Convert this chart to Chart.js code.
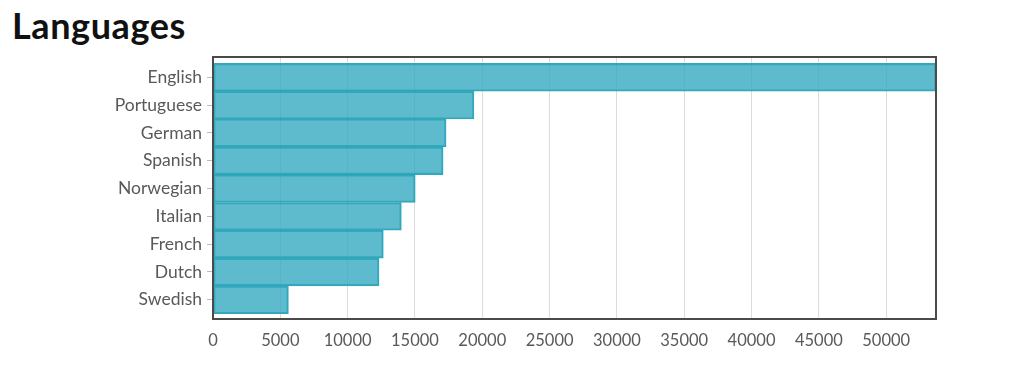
<!DOCTYPE html>
<html>
<head>
<meta charset="utf-8">
<script src="https://cdn.jsdelivr.net/npm/chart.js@4/dist/chart.umd.min.js"></script>
<style>
  html, body { margin: 0; padding: 0; background: #fff; }
  #wrap { position: relative; width: 1031px; height: 374px; }
  #title {
    position: absolute; left: 12px; top: 4px; margin: 0;
    font-family: Lato, sans-serif; font-weight: 700; font-size: 36px;
    letter-spacing: 0.6px; color: #111; line-height: 42px;
  }
  canvas { position: absolute; left: 0; top: 0; }
</style>
</head>
<body>
<div id="wrap">
  <h1 id="title">Languages</h1>
  <canvas id="chart" width="1031" height="374"></canvas>
</div>
<script>
// values
const languages = ["English", "Portuguese", "German", "Spanish", "Norwegian", "Italian", "French", "Dutch", "Swedish"];
const speakers = [53700, 19380, 17310, 17090, 15020, 13990, 12650, 12330, 5600];
const xTicks = [0, 5000, 10000, 15000, 20000, 25000, 30000, 35000, 40000, 45000, 50000];

const labelColor = "#595959";
const fontFamily = "Lato, 'Open Sans', sans-serif";

// box around the plot area
const frame = {
  id: "frame",
  afterDatasetsDraw(chart) {
    const a = chart.chartArea;
    const ctx = chart.ctx;
    ctx.save();
    ctx.strokeStyle = "#4a4a4a";
    ctx.lineWidth = 2;
    ctx.strokeRect(a.left, a.top, a.right - a.left, a.bottom - a.top);
    ctx.restore();
  },
};

new Chart(document.getElementById("chart"), {
  type: "bar",
  data: {
    datasets: [
      {
        data: speakers.map((v, i) => ({ x: v, y: i })),
        backgroundColor: "rgba(52, 170, 192, 0.8)",
        borderColor: "rgba(30, 158, 180, 0.9)",
        borderWidth: 1.5,
        borderSkipped: false,
        barPercentage: 1,
        categoryPercentage: 1,
      },
    ],
  },
  plugins: [frame],
  options: {
    indexAxis: "y",
    responsive: false,
    animation: false,
    layout: { padding: { top: 57, right: 95, left: 0, bottom: 0 } },
    plugins: {
      legend: { display: false },
      tooltip: { enabled: false },
    },
    scales: {
      x: {
        type: "linear",
        min: 0,
        max: Math.max(...speakers),
        border: { display: false },
        grid: { color: "#dcdcdc", drawTicks: false },
        afterBuildTicks(scale) {
          scale.ticks = xTicks.map((v) => ({ value: v }));
        },
        ticks: {
          padding: 12,
          maxRotation: 0,
          autoSkip: false,
          color: labelColor,
          font: { family: fontFamily, size: 16.5 },
          callback: (v) => String(v),
        },
        afterFit(scale) { scale.height = 55; },
      },
      y: {
        type: "linear",
        reverse: true,
        offset: false,
        min: -0.73,
        max: languages.length - 1 + 0.69,
        border: { display: false },
        grid: { offset: false, drawOnChartArea: false, color: "#bbb", tickLength: 6 },
        afterBuildTicks(scale) {
          scale.ticks = languages.map((_, i) => ({ value: i }));
        },
        ticks: {
          padding: 5,
          autoSkip: false,
          color: labelColor,
          font: { family: fontFamily, size: 17.5 },
          callback: (v) => languages[v],
        },
        afterFit(scale) { scale.width = 213; },
      },
    },
  },
});
</script>
</body>
</html>
